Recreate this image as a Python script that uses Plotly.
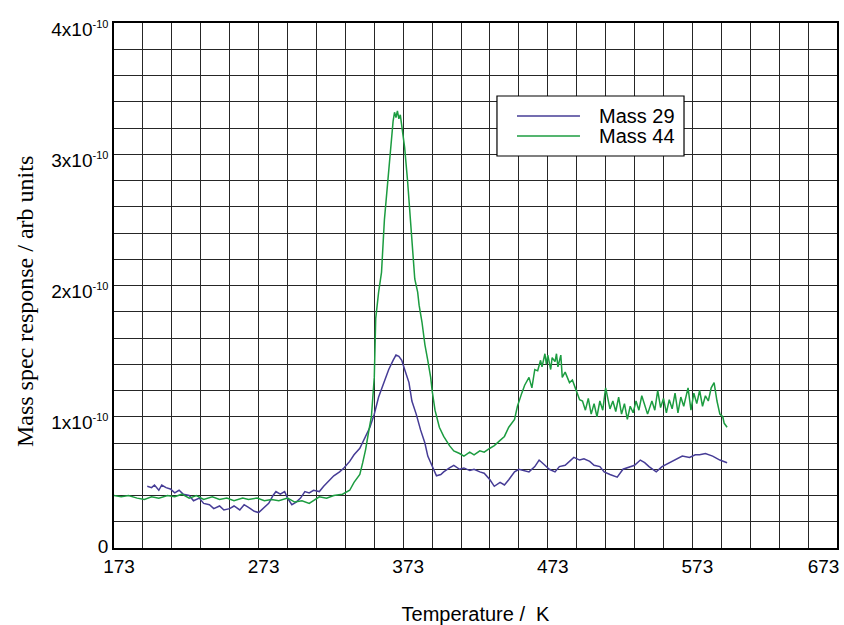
import plotly.graph_objects as go
import numpy as np

# Temperature-programmed desorption traces (response in units of 1e-10)
temp_m29 = [196, 199, 201, 204, 206, 209, 212, 215, 218, 221, 225, 228, 232, 235, 239, 242, 246, 249, 253, 256,
            260, 263, 266, 270, 273, 277, 280, 283, 285, 288, 291, 293, 296, 299, 302, 305, 308, 311, 315, 318,
            322, 325, 329, 332, 336, 339, 343, 346, 350, 353, 356, 360, 363, 366, 368, 370, 372, 374, 377, 379,
            382, 385, 388, 390, 393, 396, 399, 401, 405, 408, 412, 415, 419, 422, 426, 429, 433, 436, 440, 443,
            446, 450, 453, 457, 460, 464, 467, 471, 474, 478, 481, 485, 488, 491, 495, 498, 502, 505, 509, 512,
            516, 521, 525, 530, 533, 537, 540, 543, 548, 552, 557, 562, 566, 571, 575, 578, 582, 587, 592, 597]
resp_m29 = [0.47, 0.46, 0.48, 0.44, 0.48, 0.46, 0.45, 0.42, 0.44, 0.41, 0.40, 0.36, 0.38, 0.34, 0.33, 0.30, 0.32, 0.29, 0.30, 0.32,
            0.29, 0.33, 0.31, 0.28, 0.27, 0.31, 0.34, 0.40, 0.43, 0.41, 0.43, 0.38, 0.33, 0.35, 0.38, 0.43, 0.42, 0.44, 0.43, 0.47,
            0.52, 0.55, 0.58, 0.61, 0.66, 0.71, 0.76, 0.83, 0.92, 1.02, 1.15, 1.27, 1.36, 1.43, 1.47, 1.46, 1.43, 1.36, 1.26, 1.12,
            1.02, 0.90, 0.80, 0.70, 0.62, 0.55, 0.56, 0.58, 0.61, 0.63, 0.60, 0.61, 0.59, 0.60, 0.58, 0.57, 0.52, 0.47, 0.50, 0.48,
            0.52, 0.58, 0.60, 0.59, 0.58, 0.62, 0.67, 0.63, 0.60, 0.58, 0.62, 0.63, 0.66, 0.69, 0.67, 0.68, 0.66, 0.63, 0.62, 0.58,
            0.56, 0.54, 0.60, 0.62, 0.63, 0.67, 0.65, 0.62, 0.58, 0.62, 0.65, 0.68, 0.70, 0.69, 0.71, 0.71, 0.72, 0.70, 0.67, 0.65]

temp_m44 = [173, 178, 183, 189, 194, 199, 204, 210, 215, 220, 225, 230, 235, 241, 246, 251, 256, 262, 266, 272,
            277, 282, 287, 293, 298, 303, 308, 311, 315, 320, 325, 331, 336, 339, 343, 345, 347, 349, 351, 353,
            354, 356, 358, 360, 362, 363, 365, 366, 367, 368, 369, 370, 371, 372, 374, 376, 377, 379, 381, 383,
            384, 386, 388, 390, 392, 393, 395, 398, 401, 405, 408, 412, 415, 419, 422, 426, 429, 433, 436, 440,
            443, 446, 450, 452, 453, 455, 457, 460, 462, 464, 466, 468, 469, 471, 472, 473, 475, 476, 478, 479,
            480, 482, 483, 485, 488, 490, 492, 495, 497, 499, 501, 503, 505, 507, 509, 511, 513, 516, 518, 520,
            522, 524, 526, 528, 530, 532, 534, 536, 538, 540, 542, 545, 547, 549, 551, 553, 555, 557, 559, 561,
            563, 565, 567, 570, 572, 574, 576, 578, 580, 582, 584, 586, 588, 590, 592, 594, 595, 597]
resp_m44 = [0.40, 0.39, 0.40, 0.38, 0.37, 0.39, 0.38, 0.40, 0.39, 0.41, 0.38, 0.40, 0.37, 0.39, 0.37, 0.38, 0.36, 0.38, 0.37, 0.38,
            0.36, 0.37, 0.36, 0.38, 0.35, 0.36, 0.34, 0.36, 0.39, 0.38, 0.40, 0.41, 0.44, 0.50, 0.56, 0.65, 0.75, 0.88, 1.00, 1.30,
            1.75, 1.95, 2.10, 2.50, 2.75, 2.90, 3.15, 3.25, 3.32, 3.28, 3.33, 3.27, 3.30, 3.22, 3.05, 2.80, 2.65, 2.35, 2.05, 1.95,
            1.85, 1.72, 1.55, 1.43, 1.30, 1.20, 1.05, 0.92, 0.85, 0.78, 0.74, 0.72, 0.70, 0.73, 0.71, 0.74, 0.73, 0.76, 0.78, 0.82,
            0.85, 0.92, 0.98, 1.08, 1.12, 1.18, 1.24, 1.30, 1.22, 1.36, 1.35, 1.43, 1.38, 1.48, 1.40, 1.47, 1.36, 1.45, 1.42, 1.48,
            1.38, 1.47, 1.30, 1.34, 1.26, 1.28, 1.22, 1.13, 1.12, 1.05, 1.14, 1.02, 1.10, 1.00, 1.12, 1.05, 1.22, 1.06, 1.12, 1.04,
            1.15, 1.02, 1.10, 0.98, 1.08, 1.03, 1.12, 1.05, 1.16, 1.08, 1.02, 1.12, 1.05, 1.20, 1.07, 1.14, 1.03, 1.13, 1.06, 1.18,
            1.03, 1.15, 1.08, 1.22, 1.05, 1.18, 1.10, 1.20, 1.08, 1.16, 1.12, 1.22, 1.26, 1.12, 1.02, 1.00, 0.95, 0.92]

UNIT = 1e-10

NB = "\u00a0"
x_tickvals = [173, 273, 373, 473, 573, 673]
x_ticktext = ["173", "273", "373", "473", "573", "673" + NB * 7]
EXP = "<sup><span style='font-size:11px'>-10</span></sup>"
y_tickvals = [0, 1e-10, 2e-10, 3e-10, 4e-10]
y_ticktext = ["<sup><span style='font-size:19px'>0</span></sup>",
              "1x10" + EXP, "2x10" + EXP, "3x10" + EXP, "4x10" + EXP]

series_names = ["Mass 29", "Mass 44"]
series_colors = ["#463c96", "#1c9c40"]

fig = go.Figure()
fig.add_trace(go.Scatter(x=temp_m29, y=np.array(resp_m29) * UNIT, mode="lines",
                         name=series_names[0], line=dict(color=series_colors[0], width=1.5),
                         showlegend=False))
fig.add_trace(go.Scatter(x=temp_m44, y=np.array(resp_m44) * UNIT, mode="lines",
                         name=series_names[1], line=dict(color=series_colors[1], width=1.5),
                         showlegend=False))

grid_col = "#262626"
fig.update_xaxes(range=[173, 673], tickvals=x_tickvals, ticktext=x_ticktext,
                 showgrid=True, gridcolor=grid_col, gridwidth=1.2,
                 minor=dict(tick0=173, dtick=20, showgrid=True, gridcolor=grid_col, gridwidth=1.2),
                 showline=True, mirror=True, linecolor="black", linewidth=1.6,
                 ticks="", zeroline=False, ticklabelshift=5, ticklabeloverflow="allow",
                 automargin=False,
                 tickfont=dict(family="Liberation Sans, Arial", size=19, color="black"),
                 title=dict(text="Temperature /  K", standoff=47,
                            font=dict(family="Liberation Sans, Arial", size=20, color="black")))
fig.update_yaxes(range=[0, 4e-10], tickvals=y_tickvals, ticktext=y_ticktext,
                 showgrid=True, gridcolor=grid_col, gridwidth=1.2,
                 minor=dict(tick0=0, dtick=0.2e-10, showgrid=True, gridcolor=grid_col, gridwidth=1.2),
                 showline=True, mirror=True, linecolor="black", linewidth=1.6,
                 ticks="", zeroline=False, ticklabelshift=6, ticklabeloverflow="allow",
                 automargin=False,
                 tickfont=dict(family="Liberation Sans, Arial", size=19, color="black"))

# y-axis caption
fig.add_annotation(text="Mass spec response / arb units", xref="paper", yref="paper",
                   x=-0.123, y=0.4686, textangle=-90, showarrow=False,
                   xanchor="center", yanchor="middle",
                   font=dict(family="Liberation Serif, Times New Roman", size=24, color="black"))

# key box
fig.add_shape(type="rect", xref="paper", yref="paper", x0=0.5297, x1=0.7884, y0=0.7467, y1=0.8610,
              fillcolor="white", line=dict(color="black", width=1.2), layer="above")
key_y = [0.8229, 0.7848]
for name, col, ky in zip(series_names, series_colors, key_y):
    fig.add_shape(type="line", xref="paper", yref="paper", x0=0.5574, x1=0.6445, y0=ky, y1=ky,
                  line=dict(color=col, width=1.5), layer="above")
    fig.add_annotation(text=name, xref="paper", yref="paper", x=0.668, y=ky, showarrow=False,
                       xanchor="left", yanchor="middle",
                       font=dict(family="Liberation Sans, Arial", size=20, color="black"))

fig.update_layout(width=844, height=625, margin=dict(l=114, r=7, t=23, b=77),
                  paper_bgcolor="white", plot_bgcolor="white", showlegend=False)

fig.write_html("out.html")
